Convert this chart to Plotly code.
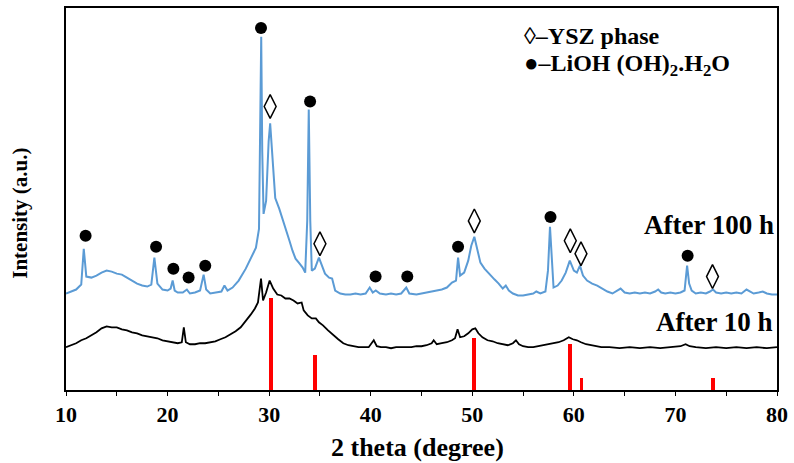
import plotly.graph_objects as go

# ---- data (2 theta in degrees, intensity in arbitrary units) ----
two_theta_100h = [10.0, 10.5, 11.0, 11.5, 11.75, 12.0, 12.5, 13.0, 13.5, 14.0, 14.5, 15.0, 15.5, 16.0, 16.5,
                  17.0, 17.5, 18.0, 18.4, 18.7, 19.0, 19.5, 20.0, 20.3, 20.5, 20.7, 21.0, 21.5, 21.9, 22.2,
                  22.7, 23.2, 23.55, 23.8, 24.2, 24.8, 25.3, 25.6, 25.9, 26.4, 27.0, 27.7, 28.3, 28.7, 29.0,
                  29.1, 29.22, 29.32, 29.45, 29.7, 29.95, 30.1, 30.3, 30.6, 31.0, 31.3, 31.6, 32.0, 32.3,
                  32.6, 33.0, 33.3, 33.55, 33.75, 33.9, 34.05, 34.2, 34.5, 34.9, 35.2, 35.5, 35.9, 36.2,
                  36.5, 37.0, 37.5, 38.0, 38.5, 39.0, 39.5, 39.9, 40.2, 40.5, 40.9, 41.5, 42.0, 42.5, 43.0,
                  43.5, 43.8, 44.5, 45.0, 45.5, 46.0, 46.5, 47.0, 47.5, 48.0, 48.4, 48.6, 48.8, 49.2, 49.6,
                  49.9, 50.2, 50.5, 50.8, 51.2, 51.7, 52.2, 52.6, 53.0, 53.3, 53.6, 54.0, 54.5, 55.0, 55.5,
                  56.0, 56.3, 56.7, 57.2, 57.45, 57.65, 57.85, 58.0, 58.4, 58.8, 59.2, 59.6, 60.0, 60.3,
                  60.6, 60.9, 61.3, 61.8, 62.3, 62.8, 63.3, 63.8, 64.3, 64.6, 65.0, 65.5, 66.0, 66.5, 67.0,
                  67.5, 68.0, 68.3, 68.6, 69.0, 69.5, 70.0, 70.5, 70.9, 71.15, 71.35, 71.6, 72.0, 72.5,
                  73.0, 73.4, 73.7, 74.0, 74.5, 75.0, 75.5, 76.0, 76.5, 77.0, 77.3, 77.7, 78.2, 78.6, 79.0,
                  79.5, 80.0]
intensity_100h = [97, 99, 101, 106, 142, 114, 113, 115, 118, 120, 119, 117, 116, 113, 110,
                  107, 105, 104, 106, 133, 107, 101, 100, 102, 110, 100, 98, 98, 101, 97,
                  98, 100, 116, 101, 97, 98, 99, 105, 100, 103, 110, 122, 134, 143, 162,
                  240, 355, 240, 177, 190, 250, 268, 240, 193, 182, 173, 162, 150, 140,
                  132, 127, 123, 118, 170, 282, 170, 120, 122, 133, 125, 117, 113, 112,
                  100, 97, 96, 96, 97, 96, 97, 103, 98, 100, 97, 96, 97, 96, 97,
                  103, 97, 96, 97, 98, 99, 100, 101, 103, 108, 110, 133, 115, 118, 130,
                  145, 154, 140, 128, 122, 116, 111, 107, 102, 105, 100, 97, 95, 95, 96,
                  97, 99, 97, 99, 120, 164, 120, 103, 105, 110, 118, 130, 120, 118,
                  125, 115, 110, 107, 105, 102, 99, 97, 100, 102, 98, 97, 98, 97, 98,
                  97, 99, 101, 98, 97, 98, 97, 98, 100, 125, 107, 100, 97, 98,
                  97, 99, 101, 98, 97, 98, 97, 98, 97, 101, 99, 97, 98, 99, 97,
                  96, 96]

two_theta_10h = [10.0, 10.5, 11.0, 11.5, 12.0, 12.5, 13.0, 13.5, 14.0, 14.5, 15.0, 15.5, 16.0, 16.5, 17.0,
                 17.5, 18.0, 18.5, 19.0, 19.5, 20.0, 20.5, 21.0, 21.4, 21.6, 21.8, 22.2, 22.7, 23.2, 23.7,
                 24.2, 24.7, 25.2, 25.7, 26.2, 26.7, 27.2, 27.7, 28.2, 28.6, 28.9, 29.2, 29.4, 29.7, 30.05,
                 30.4, 30.8, 31.2, 31.6, 32.0, 32.4, 32.8, 33.2, 33.4, 33.8, 34.2, 34.6, 34.9, 35.3, 35.8,
                 36.3, 36.8, 37.3, 37.8, 38.3, 38.8, 39.3, 39.8, 40.3, 40.6, 41.0, 41.5, 42.0, 42.5, 43.0,
                 43.5, 44.0, 44.5, 45.0, 45.5, 46.0, 46.2, 46.5, 47.0, 47.5, 48.0, 48.3, 48.55, 48.8, 49.2,
                 49.6, 50.0, 50.3, 50.6, 51.0, 51.5, 52.0, 52.5, 53.0, 53.5, 54.0, 54.3, 54.6, 55.0, 55.5,
                 56.0, 56.5, 57.0, 57.5, 58.0, 58.5, 59.0, 59.5, 59.9, 60.3, 60.7, 61.2, 61.7, 62.2, 62.7,
                 63.5, 64.5, 65.5, 66.5, 67.5, 68.5, 69.5, 70.5, 71.0, 71.4, 72.0, 73.0, 74.0, 75.0, 76.0,
                 77.0, 78.0, 79.0, 80.0]
intensity_10h = [43, 45, 47, 50, 52, 55, 58, 62, 64, 63, 63, 61, 60, 58, 57,
                 55, 54, 53, 52, 50, 49, 48, 47, 48, 63, 48, 46, 46, 47, 47,
                 48, 49, 51, 53, 56, 59, 63, 69, 76, 82, 88, 112, 90, 98, 110,
                 102, 96, 95, 92, 92, 90, 87, 88, 80, 75, 72, 72, 68, 65, 60,
                 55, 51, 47, 45, 44, 43, 43, 43, 50, 44, 43, 43, 42, 43, 43,
                 43, 43, 44, 44, 45, 47, 50, 46, 47, 48, 50, 52, 61, 53, 54,
                 57, 61, 62, 57, 53, 50, 49, 47, 46, 45, 47, 50, 46, 44, 43,
                 43, 44, 45, 46, 47, 48, 50, 53, 51, 50, 48, 46, 45, 44, 43,
                 43, 42, 43, 42, 43, 42, 43, 44, 46, 44, 43, 42, 43, 42, 43,
                 42, 43, 42, 43]

# reference (YSZ) stick pattern
ref_two_theta = [30.15, 34.55, 50.2, 59.65, 60.75, 73.7]
ref_intensity = [92, 35, 52, 46, 12, 12]

# phase markers
lioh_two_theta = [11.93, 18.87, 20.57, 22.07, 23.71, 29.2, 34.03, 40.48, 43.6, 48.6, 57.7, 71.2]
lioh_level = [155, 144, 122, 113, 125, 364, 290, 114, 114, 144, 174, 135]
ysz_two_theta = [30.1, 35.0, 50.2, 59.65, 60.7, 73.65]
ysz_level = [285, 147, 170, 150, 137, 114]

x_ticks = [10, 20, 30, 40, 50, 60, 70, 80]

FONT = "Liberation Serif, Times New Roman, serif"

fig = go.Figure()

fig.add_trace(go.Bar(x=ref_two_theta, y=ref_intensity, width=0.38,
                     marker=dict(color="#FF0000", line=dict(width=0)), showlegend=False))
fig.add_trace(go.Scatter(x=two_theta_10h, y=intensity_10h, mode="lines",
                         line=dict(color="black", width=1.8), showlegend=False))
fig.add_trace(go.Scatter(x=two_theta_100h, y=intensity_100h, mode="lines",
                         line=dict(color="#5B9BD5", width=2), showlegend=False))
fig.add_trace(go.Scatter(x=lioh_two_theta, y=lioh_level, mode="markers",
                         marker=dict(symbol="circle", size=12, color="black"), showlegend=False))
fig.add_trace(go.Scatter(x=ysz_two_theta, y=ysz_level, mode="markers",
                         marker=dict(symbol="diamond-tall-open", size=17, color="black",
                                     line=dict(width=1.5, color="black")), showlegend=False))

ann_font = dict(family=FONT, size=27, color="black", weight="bold")
fig.add_annotation(x=80, y=166, xref="x", yref="y", text="After 100 h", showarrow=False,
                   xanchor="right", yanchor="middle", xshift=-1, font=ann_font)
fig.add_annotation(x=80, y=68, xref="x", yref="y", text="After 10 h", showarrow=False,
                   xanchor="right", yanchor="middle", xshift=-3, font=ann_font)

leg_font = dict(family=FONT, size=24, color="black", weight="bold")
fig.add_annotation(x=54.85, y=356, xref="x", yref="y", text="\u25ca\u2013YSZ phase", showarrow=False,
                   xanchor="left", yanchor="middle", font=leg_font)
fig.add_annotation(x=54.85, y=327, xref="x", yref="y",
                   text="\u25cf\u2013LiOH (OH)<sub>2</sub>.H<sub>2</sub>O", showarrow=False,
                   xanchor="left", yanchor="middle", font=leg_font)

fig.add_annotation(x=-0.065, y=0.4635, xref="paper", yref="paper", text="Intensity (a.u.)",
                   textangle=-90, showarrow=False, xanchor="center", yanchor="middle",
                   font=dict(family=FONT, size=21, color="black", weight="bold"))
fig.add_annotation(x=0.495, y=-0.151, xref="paper", yref="paper", text="2 theta (degree)",
                   showarrow=False, xanchor="center", yanchor="middle",
                   font=dict(family=FONT, size=26, color="black", weight="bold"))

fig.update_layout(
    width=794, height=463,
    margin=dict(l=66, r=15, t=6, b=73),
    paper_bgcolor="white", plot_bgcolor="white",
    bargap=0,
    xaxis=dict(range=[10, 80], tickvals=x_ticks, ticks="outside", ticklen=4, tickwidth=1,
               tickcolor="black", showline=True, linecolor="black", linewidth=2, mirror=True,
               showgrid=False, zeroline=False,
               minor=dict(dtick=5, tick0=10, ticks="outside", ticklen=4, tickcolor="black"),
               tickfont=dict(family=FONT, size=22, color="black", weight="bold")),
    yaxis=dict(range=[0, 384], showticklabels=False, ticks="", showline=True, linecolor="black",
               linewidth=2, mirror=True, showgrid=False, zeroline=False),
)

fig.write_html("out.html")
